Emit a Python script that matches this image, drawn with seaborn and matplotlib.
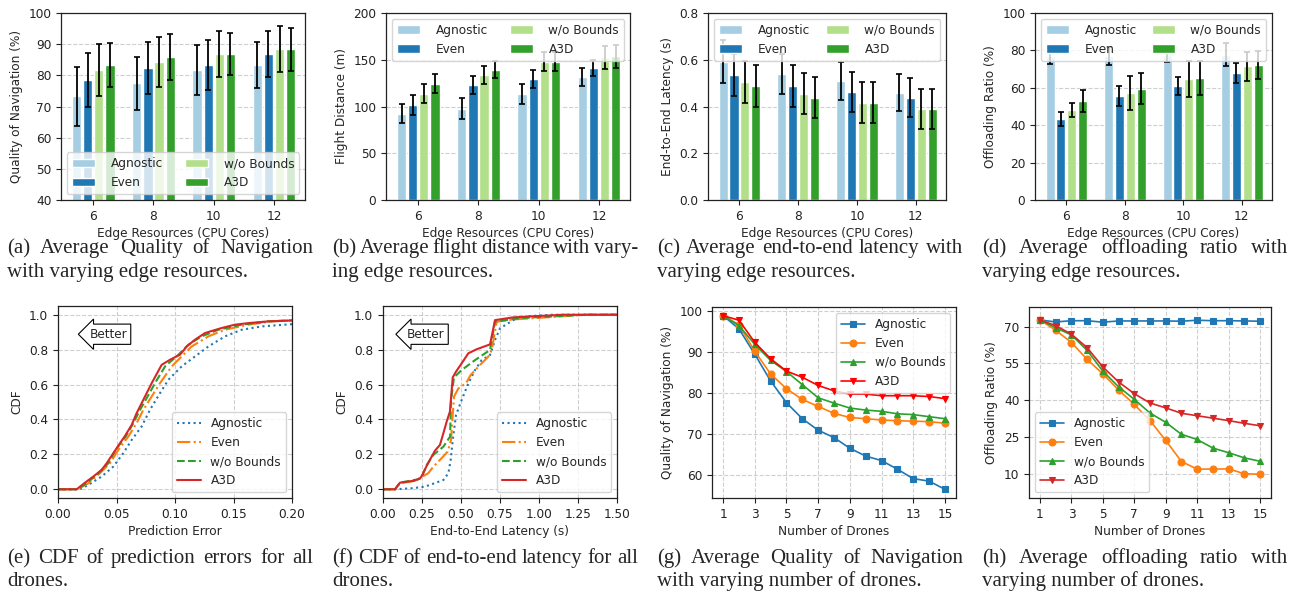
import numpy as np
import pandas as pd
import matplotlib
matplotlib.use("Agg")
import matplotlib.pyplot as plt
import seaborn as sns
from matplotlib.patches import Patch

# ---------------- data ----------------
methods = ["Agnostic", "Even", "w/o Bounds", "A3D"]
cores = [6, 8, 10, 12]
drones = list(range(1, 16))

# bar charts: rows = methods, cols = cores
qon_mean = [[73.3, 77.5, 81.7, 83.3], [78.5, 82.3, 83.3, 86.8],
            [81.7, 84.2, 86.8, 88.4], [83.3, 85.9, 86.8, 88.4]]
qon_err = [[9.5, 8.5, 7.9, 7.25], [8.7, 8.25, 8.0, 7.45],
           [8.45, 7.95, 7.45, 7.3], [7.2, 7.45, 6.85, 6.9]]
dist_mean = [[92.5, 97.5, 113.6, 131.4], [101.8, 123.2, 129.6, 141.0],
             [113.6, 133.9, 147.9, 152.5], [124.3, 139.3, 147.9, 153.6]]
dist_err = [[10.2, 11.1, 10.5, 9.8], [10.7, 9.8, 9.5, 8.8],
            [10.3, 9.6, 10.0, 12.2], [10.0, 9.1, 10.0, 12.2]]
lat_mean = [[0.591, 0.540, 0.510, 0.459], [0.535, 0.487, 0.463, 0.437],
            [0.505, 0.454, 0.416, 0.390], [0.487, 0.437, 0.416, 0.390]]
lat_err = [[0.092, 0.085, 0.082, 0.080], [0.088, 0.089, 0.086, 0.083],
           [0.089, 0.088, 0.088, 0.086], [0.089, 0.088, 0.088, 0.086]]
off_mean = [[76.9, 76.9, 77.8, 77.8], [43.3, 55.7, 60.9, 67.8],
            [48.2, 57.1, 64.6, 71.5], [53.0, 59.4, 65.1, 72.1]]
off_err = [[4.0, 4.9, 4.0, 6.1], [3.5, 5.2, 5.0, 5.2],
           [3.6, 9.2, 9.5, 7.7], [6.0, 8.3, 9.0, 7.6]]

# CDF of prediction error (x, cdf)
pe_agn_x = [0, 0.0188, 0.0259, 0.0373, 0.0473, 0.0558, 0.063, 0.0715, 0.0786, 0.0872, 0.0943, 0.1057, 0.1171, 0.1285, 0.1427, 0.157, 0.1741, 0.2]
pe_agn_y = [0, 0, 0.025, 0.073, 0.13, 0.207, 0.283, 0.36, 0.455, 0.551, 0.627, 0.704, 0.761, 0.818, 0.876, 0.914, 0.933, 0.946]
pe_even_x = [0, 0.0168, 0.0259, 0.0359, 0.0444, 0.0516, 0.0601, 0.0672, 0.0729, 0.0801, 0.0872, 0.0972, 0.1057, 0.1142, 0.1285, 0.1427, 0.1627, 0.1826, 0.2]
pe_even_y = [0, 0, 0.034, 0.092, 0.149, 0.226, 0.302, 0.379, 0.455, 0.532, 0.608, 0.704, 0.761, 0.818, 0.876, 0.914, 0.943, 0.962, 0.967]
pe_wob_x = [0, 0.0162, 0.0245, 0.0345, 0.043, 0.0493, 0.0578, 0.0644, 0.0701, 0.0766, 0.0829, 0.0915, 0.1028, 0.1114, 0.1228, 0.137, 0.157, 0.1798, 0.2]
pe_wob_y = [0, 0, 0.034, 0.092, 0.149, 0.226, 0.302, 0.379, 0.455, 0.532, 0.608, 0.704, 0.77, 0.828, 0.876, 0.914, 0.943, 0.962, 0.968]
pe_a3d_x = [0, 0.016, 0.0188, 0.0231, 0.0302, 0.0373, 0.0416, 0.0473, 0.053, 0.0573, 0.063, 0.0672, 0.0729, 0.0801, 0.0886, 0.0957, 0.1043, 0.11, 0.1171, 0.1256, 0.1399, 0.1513, 0.1627, 0.1798, 0.2]
pe_a3d_y = [0, 0, 0.015, 0.038, 0.073, 0.111, 0.149, 0.207, 0.264, 0.306, 0.369, 0.436, 0.512, 0.608, 0.713, 0.742, 0.771, 0.818, 0.857, 0.895, 0.924, 0.943, 0.952, 0.962, 0.967]

# CDF of end-to-end latency (x, cdf)
el_agn_x = [0, 0.077, 0.190, 0.269, 0.387, 0.419, 0.434, 0.447, 0.468, 0.504, 0.547, 0.590, 0.632, 0.686, 0.718, 0.750, 0.835, 0.942, 1.090, 1.5]
el_agn_y = [0, 0, 0.006, 0.015, 0.053, 0.092, 0.168, 0.282, 0.425, 0.511, 0.607, 0.683, 0.740, 0.769, 0.855, 0.922, 0.969, 0.992, 1.0, 1.0]
el_even_x = [0, 0.077, 0.109, 0.216, 0.258, 0.290, 0.323, 0.365, 0.415, 0.436, 0.455, 0.483, 0.532, 0.562, 0.622, 0.675, 0.697, 0.729, 0.835, 1.050, 1.306, 1.5]
el_even_y = [0, 0, 0.034, 0.050, 0.076, 0.092, 0.130, 0.168, 0.216, 0.282, 0.530, 0.578, 0.607, 0.655, 0.712, 0.760, 0.798, 0.960, 0.973, 0.985, 1.0, 1.0]
el_wob_x = [0, 0.077, 0.109, 0.226, 0.254, 0.280, 0.323, 0.387, 0.430, 0.436, 0.455, 0.504, 0.590, 0.686, 0.718, 0.878, 1.306, 1.5]
el_wob_y = [0, 0, 0.038, 0.057, 0.082, 0.139, 0.197, 0.244, 0.302, 0.511, 0.641, 0.683, 0.740, 0.798, 0.960, 0.981, 1.0, 1.0]
el_a3d_x = [0, 0.077, 0.109, 0.192, 0.237, 0.252, 0.280, 0.312, 0.333, 0.365, 0.387, 0.408, 0.429, 0.447, 0.468, 0.504, 0.547, 0.600, 0.686, 0.718, 0.835, 1.156, 1.5]
el_a3d_y = [0, 0, 0.038, 0.048, 0.061, 0.082, 0.134, 0.187, 0.221, 0.254, 0.321, 0.387, 0.445, 0.641, 0.674, 0.721, 0.779, 0.802, 0.830, 0.969, 0.985, 1.0, 1.0]

# quality of navigation vs number of drones
qd_agn = [98.9, 95.7, 89.5, 83.0, 77.7, 73.8, 71.0, 69.2, 66.6, 64.7, 63.6, 61.5, 59.2, 58.6, 56.6]
qd_even = [98.9, 96.7, 90.2, 84.7, 81.1, 78.5, 76.8, 75.1, 74.1, 73.8, 73.5, 73.3, 73.2, 73.1, 72.7]
qd_wob = [98.9, 96.5, 91.9, 88.0, 85.3, 82.1, 78.9, 77.6, 76.4, 75.9, 75.6, 75.0, 74.8, 74.3, 73.8]
qd_a3d = [98.9, 97.8, 92.4, 88.4, 85.4, 83.9, 81.9, 80.6, 79.8, 79.8, 79.4, 79.4, 79.4, 79.2, 78.7]

# offloading ratio vs number of drones
od_agn = [72.7, 71.9, 72.4, 72.4, 71.8, 72.3, 72.3, 72.3, 72.3, 72.2, 72.6, 72.4, 72.4, 72.3, 72.2]
od_even = [72.7, 68.5, 63.5, 56.6, 50.7, 44.1, 38.2, 31.6, 23.5, 14.9, 11.8, 11.8, 11.9, 9.9, 9.7]
od_wob = [72.7, 69.5, 66.6, 60.3, 51.8, 45.4, 40.3, 34.7, 30.9, 26.0, 23.9, 20.4, 18.5, 16.4, 15.0]
od_a3d = [72.7, 70.4, 66.9, 61.4, 53.5, 47.4, 42.6, 38.8, 36.8, 34.6, 33.6, 32.6, 31.6, 30.5, 29.5]

captions = [
    ["(a) Average Quality of Navigation", "with varying edge resources."],
    ["(b) Average flight distance with vary-", "ing edge resources."],
    ["(c) Average end-to-end latency with", "varying edge resources."],
    ["(d) Average offloading ratio with", "varying edge resources."],
    ["(e) CDF of prediction errors for all", "drones."],
    ["(f) CDF of end-to-end latency for all", "drones."],
    ["(g) Average Quality of Navigation", "with varying number of drones."],
    ["(h) Average offloading ratio with", "varying number of drones."],
]

# ---------------- style ----------------
sns.set_style("white")
plt.rcParams["font.family"] = ["DejaVu Sans"]
FS = 8.7
plt.rcParams.update({
    "axes.edgecolor": "#222222", "axes.linewidth": 0.9,
    "xtick.bottom": True, "ytick.left": True,
    "xtick.major.size": 3.5, "ytick.major.size": 3.5,
    "xtick.major.width": 0.8, "ytick.major.width": 0.8,
    "xtick.color": "#222222", "ytick.color": "#222222",
    "xtick.labelsize": FS, "ytick.labelsize": FS,
    "axes.labelsize": FS, "legend.fontsize": FS,
})
bar_colors = ["#a6cee3", "#1f78b4", "#b2df8a", "#33a02c"]

W, H = 1300, 591
fig = plt.figure(figsize=(W / 100, H / 100), dpi=100)


def rect(l, t, r, b):
    return [l / W, 1 - b / H, (r - l) / W, (b - t) / H]


def grid(ax, axis="both"):
    ax.set_axisbelow(True)
    ax.grid(axis=axis, linestyle="--", color="#b0b0b0", alpha=0.6, linewidth=0.8)


def bar_panel(r, means, errs, ylabel, ylim, yticks, legend_loc, fmt=None):
    ax = fig.add_axes(rect(*r))
    rows = []
    for j, m in enumerate(methods):
        for i, c in enumerate(cores):
            rows.append({"cores": c, "method": m, "val": means[j][i]})
    df = pd.DataFrame(rows)
    sns.barplot(data=df, x="cores", y="val", hue="method", hue_order=methods,
                palette=bar_colors, errorbar=None, width=0.74, gap=0.17,
                ax=ax, legend=False, saturation=1)
    step = 0.74 / 4
    for j in range(4):
        xs = [i + (j - 1.5) * step for i in range(len(cores))]
        ax.errorbar(xs, means[j], yerr=errs[j], fmt="none", ecolor="black",
                    elinewidth=1.3, capsize=2, capthick=1.2, zorder=3)
    ax.set_xlim(-0.535, 3.515)
    ax.set_ylim(*ylim)
    ax.set_yticks(yticks)
    if fmt:
        ax.set_yticklabels([fmt.format(v) for v in yticks])
    ax.set_xlabel("Edge Resources (CPU Cores)", labelpad=3)
    ax.set_ylabel(ylabel, labelpad=4)
    grid(ax, "y")
    handles = [Patch(facecolor=c, label=m) for c, m in zip(bar_colors, methods)]
    leg = ax.legend(handles=handles, ncol=2, mode="expand", loc=legend_loc,
                    bbox_to_anchor=(0, 0, 1, 1), framealpha=0.8,
                    handlelength=1.9, handletextpad=1.3)
    leg.set_zorder(5)
    return ax


bar_panel((61, 13, 305, 200), qon_mean, qon_err, "Quality of Navigation (%)",
          (40, 100), list(range(40, 101, 10)), "lower left")
bar_panel((386, 13, 630, 200), dist_mean, dist_err, "Flight Distance (m)",
          (0, 200), [0, 50, 100, 150, 200], "upper left")
bar_panel((708, 13, 946, 200), lat_mean, lat_err, "End-to-End Latency (s)",
          (0, 0.8), [0, 0.2, 0.4, 0.6, 0.8], "upper left", fmt="{:.1f}")
bar_panel((1035, 13, 1272, 200), off_mean, off_err, "Offloading Ratio (%)",
          (0, 100), [0, 20, 40, 60, 80, 100], "upper left")

# ---------------- CDF panels ----------------
cdf_styles = [("tab:blue", ":"), ("tab:orange", "-."), ("tab:green", "--"), ("tab:red", "-")]


def cdf_panel(r, xs, ys, xlabel, xlim, xticks, better_x):
    ax = fig.add_axes(rect(*r))
    for (c, ls), m, x, y in zip(cdf_styles, methods, xs, ys):
        sns.lineplot(x=x, y=y, ax=ax, color=c, linestyle=ls, linewidth=1.5,
                     label=m, sort=False, estimator=None)
    ax.set_xlim(*xlim)
    ax.set_ylim(-0.05, 1.05)
    ax.set_xticks(xticks)
    ax.set_xticklabels(["{:.2f}".format(v) for v in xticks])
    ax.set_yticks([0, 0.2, 0.4, 0.6, 0.8, 1.0])
    ax.set_yticklabels(["{:.1f}".format(v) for v in [0, 0.2, 0.4, 0.6, 0.8, 1.0]])
    ax.set_xlabel(xlabel, labelpad=3)
    ax.set_ylabel("CDF", labelpad=4)
    grid(ax)
    ax.legend(loc="lower right", framealpha=0.8)
    ax.text(better_x, 0.853, "Better", transform=ax.transAxes, ha="center",
            va="center", fontsize=FS,
            bbox=dict(boxstyle="larrow,pad=0.3", fc="white", ec="black", lw=0.8))
    return ax


cdf_panel((58, 306, 292, 498), [pe_agn_x, pe_even_x, pe_wob_x, pe_a3d_x],
          [pe_agn_y, pe_even_y, pe_wob_y, pe_a3d_y], "Prediction Error",
          (0, 0.2), [0, 0.05, 0.10, 0.15, 0.20], 0.215)
cdf_panel((383, 306, 617, 498), [el_agn_x, el_even_x, el_wob_x, el_a3d_x],
          [el_agn_y, el_even_y, el_wob_y, el_a3d_y], "End-to-End Latency (s)",
          (0, 1.5), [0, 0.25, 0.5, 0.75, 1.0, 1.25, 1.5], 0.183)

# ---------------- line panels ----------------
def line_panel(r, series, colors, ylabel, yticks, ylim, legend_loc):
    ax = fig.add_axes(rect(*r))
    markers = ["s", "o", "^", "v"]
    for s, c, mk, m in zip(series, colors, markers, methods):
        sns.lineplot(x=drones, y=s, ax=ax, color=c, marker=mk, markersize=5,
                     markeredgecolor=c, markeredgewidth=0.8, linewidth=1.2,
                     label=m)
    ax.set_xticks(list(range(1, 16, 2)))
    ax.set_yticks(yticks)
    if ylim:
        ax.set_ylim(*ylim)
    ax.set_xlim(0.3, 15.7)
    ax.set_xlabel("Number of Drones", labelpad=3)
    ax.set_ylabel(ylabel, labelpad=4)
    grid(ax)
    ax.legend(loc=legend_loc, framealpha=0.8)
    return ax


line_panel((712, 307, 956, 498), [qd_agn, qd_even, qd_wob, qd_a3d],
           ["tab:blue", "tab:orange", "tab:green", "red"],
           "Quality of Navigation (%)", [60, 70, 80, 90, 100], None, "upper right")
line_panel((1029, 307, 1271, 498), [od_agn, od_even, od_wob, od_a3d],
           ["tab:blue", "tab:orange", "tab:green", "tab:red"],
           "Offloading Ratio (%)", [10, 25, 40, 55, 70], (0, 78), "lower left")

# ---------------- captions (justified first line) ----------------
renderer = fig.canvas.get_renderer()
CFS = 15
cap_x = [7, 332, 657, 982]
cap_w = 306
baselines = [(253, 277), (563, 586)]


def put_caption(idx, lines):
    row, col = divmod(idx, 4)
    x0 = cap_x[col]
    x1 = x0 + cap_w
    for k, line in enumerate(lines):
        yb = 1 - baselines[row][k] / H
        if k == len(lines) - 1:
            fig.text(x0 / W, yb, line, fontsize=CFS, family="Liberation Serif",
                     va="baseline", ha="left")
            continue
        words = line.split(" ")
        texts = [fig.text(0, yb, w_, fontsize=CFS, family="Liberation Serif",
                          va="baseline", ha="left") for w_ in words]
        widths = [t.get_window_extent(renderer).width for t in texts]
        gap = (x1 - x0 - sum(widths)) / (len(words) - 1)
        xp = x0
        for t, wd in zip(texts, widths):
            t.set_x(xp / W)
            xp += wd + gap


for i, cap in enumerate(captions):
    put_caption(i, cap)

fig.savefig("out.png", dpi=100)
